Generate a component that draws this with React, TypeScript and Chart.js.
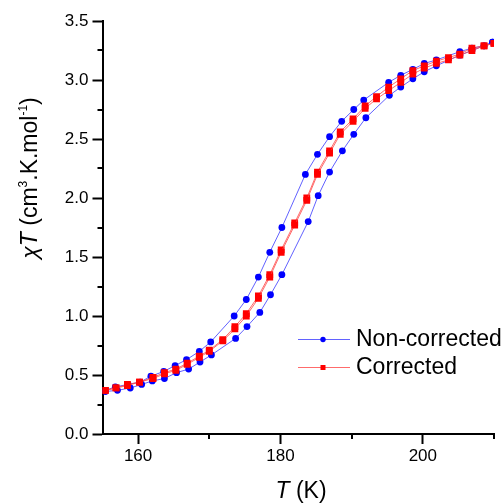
import React, { useEffect, useRef } from "react";
import { Chart, registerables } from "chart.js";

Chart.register(...registerables);

// ---- Data ----
const blueHeatT = [155.4, 157.1, 158.9, 160.5, 162.0, 163.7, 165.4, 167.1, 168.7, 170.3, 173.7, 175.3, 177.1, 178.6, 180.2, 183.9, 185.3, 186.9, 188.7, 190.3, 192.0, 195.3, 196.9, 198.6, 200.2, 201.9, 205.2, 206.9, 208.6, 209.8];
const blueHeatY = [0.36, 0.37, 0.39, 0.42, 0.45, 0.47, 0.52, 0.55, 0.61, 0.67, 0.81, 0.91, 1.03, 1.18, 1.35, 1.80, 2.02, 2.22, 2.40, 2.54, 2.68, 2.87, 2.94, 3.01, 3.07, 3.12, 3.21, 3.25, 3.29, 3.32];

const blueCoolT = [209.8, 208.6, 206.9, 205.2, 201.9, 200.2, 198.6, 196.9, 195.2, 191.7, 190.3, 188.6, 186.9, 185.2, 183.5, 180.2, 178.5, 176.9, 175.2, 173.5, 170.2, 168.6, 166.8, 165.2, 163.6, 161.8, 160.3, 158.6, 156.8, 155.4];
const blueCoolY = [3.32, 3.29, 3.27, 3.24, 3.17, 3.14, 3.09, 3.04, 2.98, 2.83, 2.75, 2.65, 2.52, 2.37, 2.20, 1.75, 1.54, 1.33, 1.14, 1.00, 0.78, 0.70, 0.63, 0.58, 0.53, 0.49, 0.44, 0.42, 0.40, 0.37];

const redT = [155.4, 156.9, 158.5, 160.2, 162.1, 163.7, 165.3, 166.9, 168.6, 170.0, 171.9, 173.6, 175.2, 176.9, 178.5, 180.1, 182.0, 183.7, 185.2, 186.9, 188.4, 190.2, 191.9, 193.5, 195.2, 196.9, 198.6, 200.2, 201.9, 203.6, 205.2, 206.9, 208.6, 210.0];
const redHeatY = [0.37, 0.39, 0.41, 0.44, 0.47, 0.51, 0.54, 0.59, 0.65, 0.70, 0.79, 0.89, 1.00, 1.15, 1.33, 1.54, 1.77, 1.98, 2.20, 2.38, 2.54, 2.65, 2.76, 2.84, 2.91, 2.98, 3.05, 3.10, 3.14, 3.17, 3.21, 3.25, 3.29, 3.31];
const redCoolY = [0.37, 0.39, 0.42, 0.44, 0.48, 0.52, 0.55, 0.60, 0.66, 0.71, 0.80, 0.91, 1.02, 1.17, 1.35, 1.56, 1.79, 2.00, 2.22, 2.40, 2.56, 2.67, 2.78, 2.86, 2.94, 3.01, 3.08, 3.12, 3.16, 3.19, 3.22, 3.27, 3.29, 3.31];

const xTicks = [160, 180, 200];
const xMinorTicks = [170, 190, 210];
const yTicks = [0, 0.5, 1.0, 1.5, 2.0, 2.5, 3.0, 3.5];
const yMinorTicks = [0.25, 0.75, 1.25, 1.75, 2.25, 2.75, 3.25];
const seriesLabels = ["Non-corrected", "Corrected"];

const BLUE = "#0000ff";
const BLUE_LINE = "rgba(70,70,255,0.85)";
const RED = "#ff0000";
const RED_LINE = "rgba(255,70,70,0.8)";
const FONT = "Arial, 'Liberation Sans', sans-serif";

function pts(t: number[], y: number[]) {
  return t.map((v, i) => ({ x: v, y: y[i] }));
}

export default function App() {
  const ref = useRef<HTMLCanvasElement>(null);

  useEffect(() => {
    if (!ref.current) return;

    const decorations = {
      id: "decorations",
      afterDraw(chart: any) {
        const ctx = chart.ctx as CanvasRenderingContext2D;
        const xs = chart.scales.x;
        const ys = chart.scales.y;
        const area = chart.chartArea;
        ctx.save();
        // minor ticks
        ctx.strokeStyle = "#000";
        ctx.lineWidth = 2;
        ctx.beginPath();
        for (const v of xMinorTicks) {
          const px = Math.round(xs.getPixelForValue(v));
          ctx.moveTo(px, area.bottom);
          ctx.lineTo(px, area.bottom + 5);
        }
        for (const v of yMinorTicks) {
          const py = Math.round(ys.getPixelForValue(v));
          ctx.moveTo(area.left, py);
          ctx.lineTo(area.left - 5, py);
        }
        ctx.stroke();

        // x title
        ctx.fillStyle = "#000";
        ctx.textBaseline = "alphabetic";
        const xParts = [
          { t: "T", f: `italic 23px ${FONT}` },
          { t: " (K)", f: `23px ${FONT}` },
        ];
        let tw = 0;
        for (const p of xParts) { ctx.font = p.f; tw += ctx.measureText(p.t).width; }
        let cx = 301 - tw / 2;
        for (const p of xParts) {
          ctx.font = p.f;
          ctx.textAlign = "left";
          ctx.fillText(p.t, cx, 498);
          cx += ctx.measureText(p.t).width;
        }

        // y title (rotated)
        const yParts = [
          { t: "χ", f: `italic 23px ${FONT}`, dy: 0 },
          { t: "T", f: `italic 23px ${FONT}`, dy: 0 },
          { t: " (cm", f: `23px ${FONT}`, dy: 0 },
          { t: "3", f: `12px ${FONT}`, dy: -10 },
          { t: ".K.mol", f: `23px ${FONT}`, dy: 0 },
          { t: "-1", f: `12px ${FONT}`, dy: -10 },
          { t: ")", f: `23px ${FONT}`, dy: 0 },
        ];
        let yw = 0;
        for (const p of yParts) { ctx.font = p.f; yw += ctx.measureText(p.t).width; }
        ctx.save();
        ctx.translate(37, 178);
        ctx.rotate(-Math.PI / 2);
        let lx = -yw / 2;
        for (const p of yParts) {
          ctx.font = p.f;
          ctx.textAlign = "left";
          ctx.fillText(p.t, lx, p.dy);
          lx += ctx.measureText(p.t).width;
        }
        ctx.restore();

        // legend
        const rows = [
          { label: seriesLabels[0], line: BLUE_LINE, fill: BLUE, style: "circle", y: 339.5 },
          { label: seriesLabels[1], line: RED_LINE, fill: RED, style: "rect", y: 367.5 },
        ];
        for (const r of rows) {
          ctx.strokeStyle = r.line;
          ctx.lineWidth = 1;
          ctx.beginPath();
          ctx.moveTo(298, r.y);
          ctx.lineTo(350, r.y);
          ctx.stroke();
          ctx.fillStyle = r.fill;
          ctx.beginPath();
          if (r.style === "circle") {
            ctx.arc(323, r.y, 2.7, 0, Math.PI * 2);
          } else {
            ctx.rect(320.5, r.y - 2.5, 5, 5);
          }
          ctx.fill();
          ctx.fillStyle = "#000";
          ctx.font = `23px ${FONT}`;
          ctx.textAlign = "left";
          ctx.textBaseline = "middle";
          ctx.fillText(r.label, 356, r.y + 0.5);
        }
        ctx.restore();
      },
    };

    const lineOpts = (color: string, fill: string, style: string, radius: number, order: number) => ({
      showLine: true,
      borderColor: color,
      borderWidth: 1,
      backgroundColor: fill,
      pointBackgroundColor: fill,
      pointBorderColor: fill,
      pointBorderWidth: 0,
      pointStyle: style,
      pointRadius: radius,
      pointHoverRadius: radius,
      tension: 0,
      order,
    });

    const chart = new Chart(ref.current, {
      type: "scatter",
      data: {
        datasets: [
          { label: seriesLabels[1], data: pts(redT, redHeatY), ...lineOpts(RED_LINE, RED, "rect", 4.8, 0) },
          { label: seriesLabels[1], data: pts(redT, redCoolY), ...lineOpts(RED_LINE, RED, "rect", 4.8, 0) },
          { label: seriesLabels[0], data: pts(blueHeatT, blueHeatY), ...lineOpts(BLUE_LINE, BLUE, "circle", 3.4, 1) },
          { label: seriesLabels[0], data: pts(blueCoolT, blueCoolY), ...lineOpts(BLUE_LINE, BLUE, "circle", 3.4, 1) },
        ] as any,
      },
      options: {
        animation: false,
        responsive: true,
        maintainAspectRatio: false,
        layout: { padding: { left: 0, top: 21, right: 9, bottom: 0 } },
        plugins: {
          legend: { display: false },
          tooltip: { enabled: false },
        },
        scales: {
          x: {
            type: "linear",
            min: 155,
            max: 210,
            afterBuildTicks: (s: any) => { s.ticks = xTicks.map((v) => ({ value: v })); },
            afterFit: (s: any) => { s.height = 69; },
            grid: { drawOnChartArea: false, drawTicks: true, tickLength: 10, tickWidth: 2, tickColor: "#000" },
            border: { display: true, width: 2, color: "#000" },
            ticks: { color: "#000", font: { family: FONT, size: 17 }, padding: 2, maxRotation: 0 },
          },
          y: {
            type: "linear",
            min: 0,
            max: 3.5,
            afterBuildTicks: (s: any) => { s.ticks = yTicks.map((v) => ({ value: v })); },
            afterFit: (s: any) => { s.width = 102.5; },
            grid: { drawOnChartArea: false, drawTicks: true, tickLength: 10, tickWidth: 2, tickColor: "#000" },
            border: { display: true, width: 2, color: "#000" },
            ticks: {
              color: "#000",
              font: { family: FONT, size: 17 },
              padding: 4,
              callback: (v: any) => Number(v).toFixed(1),
            },
          },
        },
      },
      plugins: [decorations],
    } as any);

    return () => chart.destroy();
  }, []);

  return (
    <div style={{ position: "fixed", left: 0, top: 0, width: 503, height: 503, background: "#fff" }}>
      <canvas ref={ref} />
    </div>
  );
}
